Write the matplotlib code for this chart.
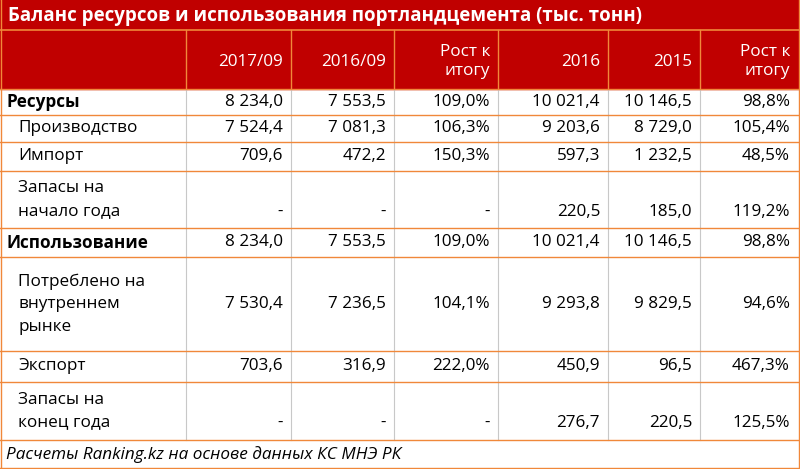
import matplotlib
matplotlib.use("Agg")
import matplotlib.pyplot as plt
from matplotlib.patches import Rectangle

title = "Баланс ресурсов и использования портландцемента (тыс. тонн)"
columns = ["2017/09", "2016/09", "Рост к\nитогу", "2016", "2015", "Рост к\nитогу"]
row_labels = ["Ресурсы", "Производство", "Импорт", "Запасы на\nначало года",
              "Использование", "Потреблено на\nвнутреннем\nрынке", "Экспорт", "Запасы на\nконец года"]
bold_rows = [True, False, False, False, True, False, False, False]
col_2017_09 = ["8 234,0", "7 524,4", "709,6", "-", "8 234,0", "7 530,4", "703,6", "-"]
col_2016_09 = ["7 553,5", "7 081,3", "472,2", "-", "7 553,5", "7 236,5", "316,9", "-"]
col_growth1 = ["109,0%", "106,3%", "150,3%", "-", "109,0%", "104,1%", "222,0%", "-"]
col_2016 = ["10 021,4", "9 203,6", "597,3", "220,5", "10 021,4", "9 293,8", "450,9", "276,7"]
col_2015 = ["10 146,5", "8 729,0", "1 232,5", "185,0", "10 146,5", "9 829,5", "96,5", "220,5"]
col_growth2 = ["98,8%", "105,4%", "48,5%", "119,2%", "98,8%", "94,6%", "467,3%", "125,5%"]
footer = "Расчеты Ranking.kz на основе данных КС МНЭ РК"

data_cols = [col_2017_09, col_2016_09, col_growth1, col_2016, col_2015, col_growth2]

RED = "#C00000"
ORANGE = "#F0883A"
GREY = "#C8C8C8"
W, H = 800, 469
fig = plt.figure(figsize=(8, 4.69), dpi=100)
ax = fig.add_axes([0, 0, 1, 1])
ax.set_xlim(0, W); ax.set_ylim(H, 0); ax.axis("off")
plt.rcParams['font.family'] = ['Open Sans', 'DejaVu Sans']
fs = 12.3

xb = [0, 186, 291, 394, 498, 608, 700, 798]
yb = [30, 89, 115, 142, 171, 228, 257, 351, 382, 440]

ax.add_patch(Rectangle((0, 0), W, yb[1], color=RED, zorder=0))
ax.text(8, 16, title, color="white", fontsize=13.5, fontweight="bold", va="center", ha="left")
ax.plot([0, W], [yb[0], yb[0]], color=ORANGE, lw=1.2)
for i, c in enumerate(columns):
    ax.text(xb[i + 2] - 8, (yb[0] + yb[1]) / 2 + 2, c, color="white", fontsize=fs,
            ha="right", va="center", linespacing=1.3, multialignment="right")
# grid
for x in xb[1:-1]:
    ax.plot([x, x], [yb[0], yb[1]], color=ORANGE, lw=1)
    ax.plot([x, x], [yb[1], yb[-1]], color=GREY, lw=0.8)
for y in yb[1:]:
    ax.plot([0, W], [y, y], color=ORANGE, lw=1)
ax.plot([0.5, 0.5], [0, H], color=ORANGE, lw=1)
ax.plot([W - 1.5, W - 1.5], [0, H], color=ORANGE, lw=1)
ax.plot([0, W], [H - 1, H - 1], color=ORANGE, lw=1)

for r, lab in enumerate(row_labels):
    y0, y1 = yb[r + 1], yb[r + 2]
    yc = (y0 + y1) / 2
    if bold_rows[r]:
        ax.text(6, yc, lab, fontsize=fs, fontweight="bold", va="center", ha="left")
    else:
        ax.text(18, yc, lab, fontsize=fs, va="center", ha="left", linespacing=1.55)
    for j, col in enumerate(data_cols):
        ax.text(xb[j + 2] - 8, yc + (12 if lab.count("\n") == 1 else 0), col[r],
                fontsize=fs, va="center", ha="right")

ax.text(6, (yb[-1] + H) / 2, footer, fontsize=fs, style="italic", va="center", ha="left")
fig.savefig("out.png", dpi=100)
